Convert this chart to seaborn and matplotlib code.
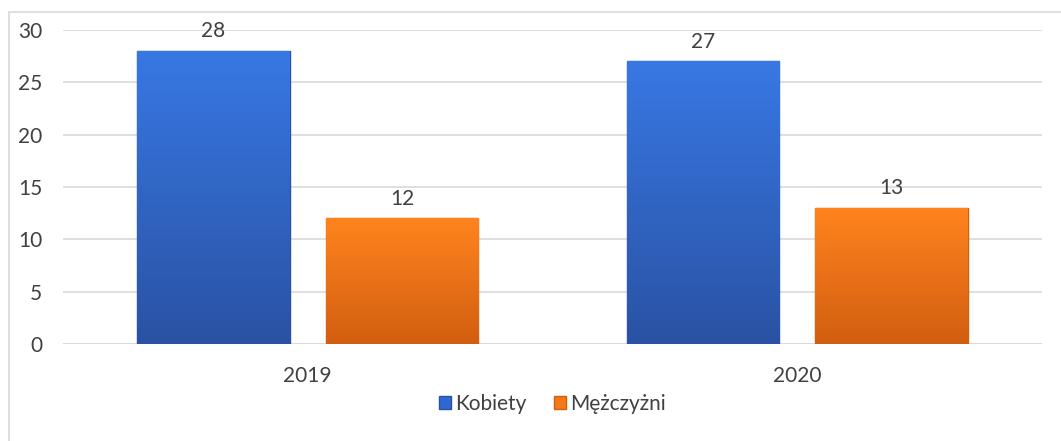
import numpy as np
import pandas as pd
import matplotlib
matplotlib.use("Agg")
import matplotlib.pyplot as plt
import seaborn as sns
from matplotlib.colors import LinearSegmentedColormap
from matplotlib.patches import Patch

# dane
lata = ['2019', '2020']
kobiety = [28, 27]
mezczyzni = [12, 13]
serie = ['Kobiety', 'Mężczyżni']

df = pd.DataFrame({
    'Rok': lata * 2,
    'Liczba': kobiety + mezczyzni,
    'Płeć': [serie[0]] * len(lata) + [serie[1]] * len(lata),
})

sns.set_style('white')
plt.rcParams['font.family'] = ['Lato', 'DejaVu Sans']
txt = '#404040'
grid = '#D9D9D9'
fs = 15
kolory = {serie[0]: '#2F69D0', serie[1]: '#F47A18'}
gradienty = {
    serie[0]: ('#3878E3', '#2A52A4'),
    serie[1]: ('#FF841E', '#D25E10'),
}

fig = plt.figure(figsize=(10.61, 4.41), dpi=100)
ax = fig.add_axes([63 / 1061, 1 - 344 / 441, 979 / 1061, 314 / 441])

sns.barplot(data=df, x='Rok', y='Liczba', hue='Płeć', palette=kolory,
            width=0.77, gap=0.19, ax=ax, legend=False, zorder=3)

ax.set_ylim(0, 30)
ax.set_yticks(range(0, 31, 5))
ax.yaxis.grid(True, color=grid, lw=1.2, zorder=0)
ax.set_axisbelow(True)
for s in ax.spines.values():
    s.set_visible(False)
ax.axhline(0, color=grid, lw=1.2, zorder=2)
ax.tick_params(axis='y', length=0, pad=15, labelsize=fs, labelcolor=txt)
ax.tick_params(axis='x', length=0, pad=16, labelsize=fs, labelcolor=txt)
ax.set_xlabel('')
ax.set_ylabel('')

# gradient na słupkach
for cont, nazwa in zip(ax.containers, serie):
    c1, c2 = gradienty[nazwa]
    cmap = LinearSegmentedColormap.from_list('g' + str(len(nazwa)), [c2, c1])
    for bar in cont:
        x0, y0 = bar.get_x(), bar.get_y()
        w, h = bar.get_width(), bar.get_height()
        g = np.linspace(0, 1, 100).reshape(-1, 1)
        im = ax.imshow(g, cmap=cmap, aspect='auto', origin='lower',
                       extent=[x0, x0 + w, y0, y0 + h], zorder=3.5)
        im.set_clip_path(bar)
        bar.set_edgecolor(c2)
        bar.set_linewidth(1)
    ax.bar_label(cont, padding=7, fontsize=fs, color=txt, zorder=5)

ax.set_xlim(-0.5, 1.5)

uchwyty = [Patch(facecolor=kolory[s], edgecolor=gradienty[s][1], label=s) for s in serie]
ax.legend(handles=uchwyty, loc='upper center', bbox_to_anchor=(0.5, -0.1),
          ncol=2, frameon=False, fontsize=fs, labelcolor=txt,
          handlelength=0.6, handleheight=0.6, handletextpad=0.2,
          columnspacing=1.3)

# ramka wykresu (lewa i górna krawędź)
fx = 9 / 1061
fy = 1 - 12 / 441
fig.add_artist(plt.Line2D([fx, fx], [0, fy], transform=fig.transFigure, color=grid, lw=1.2))
fig.add_artist(plt.Line2D([fx, 1], [fy, fy], transform=fig.transFigure, color=grid, lw=1.2))

fig.savefig('out.png', dpi=100)
